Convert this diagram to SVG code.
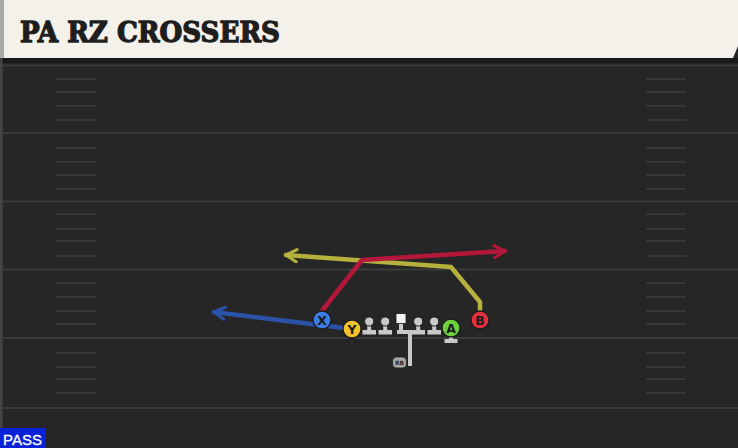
<svg xmlns="http://www.w3.org/2000/svg" width="738" height="448" viewBox="0 0 738 448">
<style>
.yard{stroke:#3a3a3a;stroke-width:2}
.hash{stroke:#363636;stroke-width:2}
.route{fill:none;stroke-width:4.5;stroke-linejoin:round;stroke-linecap:round}
.ol{fill:#c9c9c9}
.pc{stroke:#1a1a1a;stroke-width:1.3}
.pl{font-family:"DejaVu Sans","Liberation Sans",sans-serif;font-weight:bold;font-size:12.5px;fill:#1a1a1a;text-anchor:middle}
.hd{fill:#c9c9c9;stroke:#1a1a1a;stroke-width:1}
</style>
<defs>
<marker id="ab" viewBox="0 0 10 10" refX="8" refY="5" markerWidth="3.4" markerHeight="3.4" orient="auto" markerUnits="strokeWidth"><path d="M1,1 L8,5 L1,9" fill="none" stroke="#2a52a8" stroke-width="2" stroke-linecap="round" stroke-linejoin="round"/></marker>
<marker id="ar" viewBox="0 0 10 10" refX="8" refY="5" markerWidth="3.4" markerHeight="3.4" orient="auto" markerUnits="strokeWidth"><path d="M1,1 L8,5 L1,9" fill="none" stroke="#b5173b" stroke-width="2" stroke-linecap="round" stroke-linejoin="round"/></marker>
<marker id="ay" viewBox="0 0 10 10" refX="8" refY="5" markerWidth="3.4" markerHeight="3.4" orient="auto" markerUnits="strokeWidth"><path d="M1,1 L8,5 L1,9" fill="none" stroke="#b6b13c" stroke-width="2" stroke-linecap="round" stroke-linejoin="round"/></marker>
</defs>
<rect width="738" height="448" fill="#262626"/>
<rect x="0" y="58" width="738" height="5" fill="#1a1a1a"/>
<g id="field">
<line class="yard" x1="0" y1="65.5" x2="738" y2="65.5"/>
<line class="yard" x1="0" y1="133" x2="738" y2="133"/>
<line class="yard" x1="0" y1="201.5" x2="738" y2="201.5"/>
<line class="yard" x1="0" y1="269.5" x2="738" y2="269.5"/>
<line class="yard" x1="0" y1="338" x2="738" y2="338"/>
<line class="yard" x1="0" y1="408" x2="738" y2="408"/>
<g class="hash">
<line x1="56" y1="79" x2="96" y2="79"/><line x1="56" y1="92" x2="96" y2="92"/><line x1="56" y1="106" x2="96" y2="106"/><line x1="56" y1="120" x2="96" y2="120"/>
<line x1="56" y1="148" x2="96" y2="148"/><line x1="56" y1="162" x2="96" y2="162"/><line x1="56" y1="175" x2="96" y2="175"/><line x1="56" y1="189" x2="96" y2="189"/>
<line x1="56" y1="214" x2="96" y2="214"/><line x1="56" y1="229" x2="96" y2="229"/><line x1="56" y1="241" x2="96" y2="241"/><line x1="56" y1="256" x2="96" y2="256"/>
<line x1="56" y1="283" x2="96" y2="283"/><line x1="56" y1="297" x2="96" y2="297"/><line x1="56" y1="311" x2="96" y2="311"/><line x1="56" y1="324" x2="96" y2="324"/>
<line x1="56" y1="353" x2="96" y2="353"/><line x1="56" y1="367" x2="96" y2="367"/><line x1="56" y1="379" x2="96" y2="379"/><line x1="56" y1="393" x2="96" y2="393"/>
<line x1="646" y1="79" x2="686" y2="79"/><line x1="646" y1="92" x2="686" y2="92"/><line x1="646" y1="106" x2="686" y2="106"/><line x1="646" y1="120" x2="686" y2="120"/>
<line x1="646" y1="148" x2="686" y2="148"/><line x1="646" y1="162" x2="686" y2="162"/><line x1="646" y1="175" x2="686" y2="175"/><line x1="646" y1="189" x2="686" y2="189"/>
<line x1="646" y1="214" x2="686" y2="214"/><line x1="646" y1="229" x2="686" y2="229"/><line x1="646" y1="241" x2="686" y2="241"/><line x1="646" y1="256" x2="686" y2="256"/>
<line x1="646" y1="283" x2="686" y2="283"/><line x1="646" y1="297" x2="686" y2="297"/><line x1="646" y1="311" x2="686" y2="311"/><line x1="646" y1="324" x2="686" y2="324"/>
<line x1="646" y1="353" x2="686" y2="353"/><line x1="646" y1="367" x2="686" y2="367"/><line x1="646" y1="379" x2="686" y2="379"/><line x1="646" y1="393" x2="686" y2="393"/>
</g>
<rect x="0" y="0" width="2.5" height="448" fill="#444"/>
</g>
<g id="header">
<path d="M0,0 H738 V46 L733,58 H0 Z" fill="#f4f1ea"/>
<rect x="0" y="0" width="4" height="58" fill="#a9a9a6"/>
<text x="20" y="42" font-family="'DejaVu Serif','Liberation Serif',serif" font-weight="bold" font-size="27" fill="#1e1e1e" stroke="#1e1e1e" stroke-width="1.3" textLength="260" lengthAdjust="spacingAndGlyphs">PA RZ CROSSERS</text>
</g>
<g id="connectors">
<polyline class="route" stroke="#2a52a8" points="344,328 214,312" marker-end="url(#ab)"/>
<polyline class="route" stroke="#b6b13c" points="480,318 480,302 451,267 286,255" marker-end="url(#ay)"/>
<polyline class="route" stroke="#b5173b" points="321,312 362,260 505,251" marker-end="url(#ar)"/>
<g fill="none" stroke="#c9c9c9" stroke-width="4">
<polyline points="397,332 416,332"/>
<polyline points="410,332 410,366"/>
</g>
</g>
<g id="X"><circle class="pc" cx="322" cy="320" r="9" fill="#3b7de0"/><text class="pl" x="322" y="324.5">X</text></g>
<g id="Y"><circle class="pc" cx="352" cy="329" r="9" fill="#f4c22b"/><text class="pl" x="352" y="333.5">Y</text></g>
<g id="LT"><rect class="ol" x="367.2" y="321" width="4" height="11"/><rect class="ol" x="362.5" y="330" width="13.5" height="4.5"/><circle class="hd" cx="369.2" cy="321.5" r="4.6"/></g>
<g id="LG"><rect class="ol" x="383.2" y="321" width="4" height="11"/><rect class="ol" x="378.5" y="330" width="13.5" height="4.5"/><circle class="hd" cx="385.2" cy="321.5" r="4.6"/></g>
<g id="C"><rect class="ol" x="399" y="320" width="4" height="12"/><rect x="396" y="313.5" width="10" height="10" fill="#f2f2f2" stroke="#1a1a1a" stroke-width="0.8"/></g>
<g id="RG"><rect class="ol" x="416.2" y="321" width="4" height="11"/><rect class="ol" x="411.5" y="330" width="13.5" height="4.5"/><circle class="hd" cx="418.2" cy="321.5" r="4.6"/></g>
<g id="RT"><rect class="ol" x="432.2" y="321" width="4" height="11"/><rect class="ol" x="427.5" y="330" width="13.5" height="4.5"/><circle class="hd" cx="434.2" cy="321.5" r="4.6"/></g>
<g id="A"><rect class="ol" x="449" y="334" width="4" height="6"/><rect class="ol" x="444.5" y="339" width="13" height="4"/><circle class="pc" cx="451" cy="328" r="9" fill="#6cd13b"/><text class="pl" x="451" y="332.5">A</text></g>
<g id="B"><circle class="pc" cx="480" cy="320" r="9" fill="#e3303d"/><text class="pl" x="480" y="324.5">B</text></g>
<g id="RB"><rect x="392.5" y="357" width="14" height="11" rx="4" fill="#a8a8a8" stroke="#1a1a1a" stroke-width="0.8"/><text x="399.5" y="365" font-family="'DejaVu Sans','Liberation Sans',sans-serif" font-size="6" font-weight="bold" fill="#2a2a2a" text-anchor="middle">RB</text></g>
<g id="pass"><rect x="0" y="428" width="46" height="20" fill="#0a22d8"/><text x="3" y="445" font-family="'Liberation Sans','DejaVu Sans',sans-serif" font-size="15" fill="#ffffff" stroke="#ffffff" stroke-width="0.3">PASS</text></g>
</svg>
